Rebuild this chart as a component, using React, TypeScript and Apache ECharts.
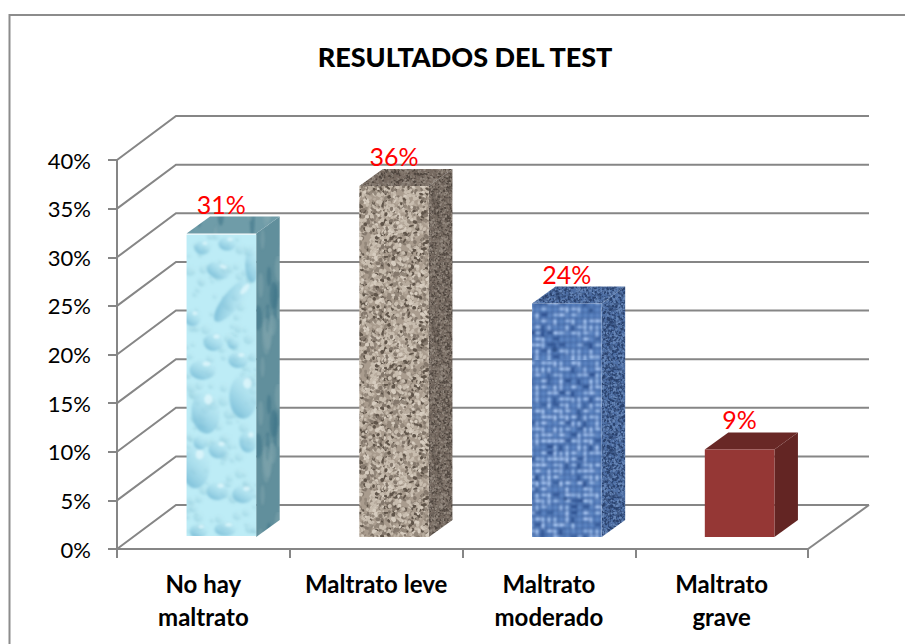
import React, { useEffect, useRef } from "react";
import * as echarts from "echarts";

const categories = ["No hay\nmaltrato", "Maltrato leve", "Maltrato\nmoderado", "Maltrato\ngrave"];
const barValues = [31.2, 36.1, 24, 9];
const valueLabels = ["31%", "36%", "24%", "9%"];
const yTicks = [0, 5, 10, 15, 20, 25, 30, 35, 40];
const titleText = "RESULTADOS DEL TEST";
const GREY = "#868686";
const FONT = "Lato";

// --- surface textures (decoration only, never data) ---
function rng(seed: number) {
  let s = seed;
  return () => {
    s = (s * 1664525 + 1013904223) % 4294967296;
    return s / 4294967296;
  };
}
function canvas(w: number, h: number) {
  const c = document.createElement("canvas");
  c.width = w;
  c.height = h;
  return [c, c.getContext("2d") as CanvasRenderingContext2D] as const;
}
function speckle(w: number, h: number, base: string, colors: string[], size: number, seed: number, blur = 0.6) {
  const [c, g] = canvas(w, h);
  const r = rng(seed);
  g.fillStyle = base;
  g.fillRect(0, 0, w, h);
  g.filter = `blur(${blur}px)`;
  const n = Math.round((w * h) / (size * size) * 1.6);
  for (let i = 0; i < n; i++) {
    g.fillStyle = colors[Math.floor(r() * colors.length)];
    g.beginPath();
    g.ellipse(r() * w, r() * h, size * (0.4 + r() * 0.5), size * (0.3 + r() * 0.4), r() * 3, 0, 6.3);
    g.fill();
  }
  return c.toDataURL();
}
function weave(w: number, h: number, base: string, light: string, dark: string, cell: number, seed: number) {
  const [c, g] = canvas(w, h);
  const r = rng(seed);
  g.fillStyle = base;
  g.fillRect(0, 0, w, h);
  g.filter = "blur(0.8px)";
  for (let y = 0; y < h; y += cell) {
    for (let x = 0; x < w; x += cell) {
      const k = r();
      g.fillStyle = k < 0.6 ? light : k < 0.74 ? dark : base;
      g.globalAlpha = 0.6 + r() * 0.4;
      const horizontal = r() < 0.5;
      g.fillRect(x + 1, y + 1, horizontal ? cell + 1 : cell - 2.5, horizontal ? cell - 2.5 : cell + 1);
    }
  }
  g.globalAlpha = 0.55;
  g.fillStyle = dark;
  for (let y = 0; y < h; y += cell) g.fillRect(0, y, w, 1);
  for (let x = 0; x < w; x += cell) g.fillRect(x, 0, 1, h);
  g.globalAlpha = 0.7;
  g.fillStyle = "#1f3f75";
  for (let i = 0; i < 30; i++) {
    g.beginPath();
    g.arc(r() * w, r() * h, 1.5 + r() * 1.5, 0, 6.3);
    g.fill();
  }
  return c.toDataURL();
}
function drop(g: CanvasRenderingContext2D, x: number, y: number, rx: number, ry: number, rot: number, dark: string, hi: string | null) {
  g.save();
  g.translate(x, y);
  g.rotate(rot);
  g.scale(rx, ry);
  const gr = g.createLinearGradient(-0.7, 1, 0.7, -1);
  gr.addColorStop(0, dark);
  gr.addColorStop(1, "rgba(200,240,248,0.25)");
  g.fillStyle = gr;
  g.beginPath();
  g.arc(0, 0, 1, 0, 6.3);
  g.fill();
  g.restore();
  if (hi) {
    g.save();
    g.translate(x, y);
    g.rotate(rot);
    g.translate(rx * 0.3, -ry * 0.62);
    g.fillStyle = hi;
    g.beginPath();
    g.ellipse(0, 0, Math.max(1, rx * 0.3), Math.max(1.4, ry * 0.24), 0, 0, 6.3);
    g.fill();
    g.restore();
  }
}
// drops sit at the places they have in the picture, relative to the face's top-left corner
const waterDrops = [
  [46, 66, 9, 27, 0.68], [32, 36, 12, 8, 0.3], [16, 13, 8, 7, 0], [41, 9, 9, 7, 0], [6, 84, 8, 8, 0],
  [27, 108, 10, 9, 0], [47, 109, 6, 6, 0], [52, 126, 10, 8, 0], [16, 136, 13, 10, 0], [66, 30, 7, 18, 0],
  [57, 163, 14, 22, 0], [19, 179, 14, 21, -0.1], [32, 216, 10, 9, 0], [9, 234, 14, 21, 0], [31, 258, 11, 9, 0],
  [57, 261, 11, 9, 0], [39, 296, 11, 7, 0], [12, 298, 9, 7, 0], [62, 208, 9, 11, 0], [14, 209, 7, 7, 0],
];
function waterFront(w: number, h: number) {
  const [c, g] = canvas(w, h);
  const r = rng(17);
  g.fillStyle = "#bdecf6";
  g.fillRect(0, 0, w, h);
  g.filter = "blur(1px)";
  for (let i = 0; i < 170; i++) {
    const rad = 1.5 + r() * 4;
    drop(g, r() * w, r() * h, rad, rad, 0, "rgba(135,195,212,0.55)", null);
  }
  for (const [x, y, rx, ry, rot] of waterDrops) {
    drop(g, x, y, rx, ry, rot, "rgba(105,178,208,0.85)", rx > 7 ? "rgba(225,248,252,0.8)" : null);
  }
  return c.toDataURL();
}
function waterSide(w: number, h: number, base: string) {
  const [c, g] = canvas(w, h);
  const r = rng(5);
  g.fillStyle = base;
  g.fillRect(0, 0, w, h);
  g.filter = "blur(1.2px)";
  for (let i = 0; i < 46; i++) {
    g.fillStyle = i % 2 ? "rgba(60,115,135,0.55)" : "rgba(135,170,178,0.4)";
    g.beginPath();
    g.ellipse(r() * w, r() * h, 2 + r() * 3, 8 + r() * 14, 0, 0, 6.3);
    g.fill();
  }
  return c.toDataURL();
}

type Skin = { front: any; side: any; top: any };
function makeSkins(): Skin[] {
  const tile = (image: string, size: number) => ({ image, repeat: "repeat", imageWidth: size, imageHeight: size });
  const rockA = ["#c8bdaf", "#c8bdaf", "#b7ab9d", "#d6ccbf", "#93877a", "#84786c", "#5f5449"];
  const rockB = ["#84796f", "#4f463f", "#766a61", "#948a80"];
  const clothSide = speckle(128, 128, "#3f5a88", ["#6787b8", "#2a426e", "#4f70a6"], 1.7, 41, 0.5);
  return [
    {
      front: { url: waterFront(70, 303) },
      side: tile(waterSide(128, 128, "#618f9c"), 128),
      top: tile(waterSide(128, 128, "#6f9ca8"), 128),
    },
    {
      front: tile(speckle(128, 128, "#a99c8e", rockA, 3, 23, 0.7), 128),
      side: tile(speckle(128, 128, "#6a6058", rockB, 1.6, 29, 0.5), 128),
      top: tile(speckle(128, 128, "#76695f", rockB, 1.9, 31, 0.5), 128),
    },
    {
      front: tile(weave(360, 360, "#5c84c0", "#a4c1ec", "#2f5290", 6, 37), 360),
      side: tile(clothSide, 128),
      top: tile(clothSide, 128),
    },
    { front: "#953735", side: "#632523", top: "#692826" },
  ];
}

export default function App() {
  const ref = useRef<HTMLDivElement>(null);
  useEffect(() => {
    document.body.style.margin = "0";
    const chart = echarts.init(ref.current!, undefined, { renderer: "svg" });
    const skins = makeSkins();
    const WALL = [59, -44];
    const FRONT_GAP = [18, -12];
    const BAR_DEPTH = [23.5, -17];

    chart.setOption({
      animation: false,
      backgroundColor: "#ffffff",
      title: {
        text: titleText,
        left: 460,
        top: 38,
        textAlign: "center",
        textStyle: { fontFamily: FONT, fontWeight: 900, fontSize: 27, color: "#000" },
      },
      graphic: [
        {
          type: "polyline",
          shape: { points: [[9.5, 644], [9.5, 15], [905, 15]] },
          style: { stroke: "#8c8c8c", lineWidth: 2, fill: "none" },
          silent: true,
        },
      ],
      grid: { left: 117, top: 160, width: 691, height: 389, containLabel: false },
      xAxis: {
        type: "category",
        data: categories,
        axisLine: { lineStyle: { color: GREY, width: 2 } },
        axisTick: { show: true, length: 9, lineStyle: { color: GREY, width: 2 } },
        axisLabel: {
          fontFamily: FONT,
          fontWeight: "bold",
          fontSize: 24,
          color: "#000",
          lineHeight: 33,
          margin: 18,
          interval: 0,
        },
        splitLine: { show: false },
      },
      yAxis: {
        type: "value",
        min: 0,
        max: 40,
        interval: 5,
        axisLine: { show: true, lineStyle: { color: GREY, width: 2 } },
        axisTick: { show: true, length: 9, lineStyle: { color: GREY, width: 2 } },
        axisLabel: { fontFamily: FONT, fontSize: 22, color: "#000", margin: 26, formatter: "{value}%" },
        splitLine: { show: false },
      },
      series: [
        {
          type: "custom",
          name: "walls",
          silent: true,
          z: 1,
          data: yTicks.map((t) => [0, t]),
          encode: { x: 0, y: 1 },
          clip: false,
          renderItem: (params: any, api: any) => {
            const cs = params.coordSys;
            const y = api.coord([0, api.value(1)])[1];
            const left = cs.x;
            const right = cs.x + cs.width;
            const pts = [[left, y], [left + WALL[0], y + WALL[1]], [right + WALL[0] + 2, y + WALL[1]]];
            const children: any[] = [
              { type: "polyline", shape: { points: pts }, style: { stroke: GREY, lineWidth: 2, fill: "none" } },
            ];
            if (api.value(1) === 0) {
              children.push({
                type: "line",
                shape: { x1: right, y1: y, x2: right + WALL[0] + 2, y2: y + WALL[1] },
                style: { stroke: GREY, lineWidth: 2 },
              });
            }
            return { type: "group", children };
          },
        },
        {
          type: "custom",
          name: "bars",
          silent: true,
          z: 2,
          data: barValues.map((v, i) => [i, v]),
          encode: { x: 0, y: 1 },
          clip: false,
          renderItem: (params: any, api: any) => {
            const i = api.value(0);
            const top = api.coord([i, api.value(1)]);
            const base = api.coord([i, 0]);
            const w = api.size([1, 0])[0] * 0.403;
            const x0 = top[0] - w / 2 + FRONT_GAP[0];
            const x1 = x0 + w;
            const yt = top[1] + FRONT_GAP[1];
            const yb = base[1] + FRONT_GAP[1];
            const [dx, dy] = BAR_DEPTH;
            const s = skins[i];
            const front = s.front.url
              ? { type: "image", style: { image: s.front.url, x: x0, y: yt, width: x1 - x0, height: yb - yt } }
              : { type: "polygon", shape: { points: [[x0, yt], [x1, yt], [x1, yb], [x0, yb]] }, style: { fill: s.front } };
            return {
              type: "group",
              children: [
                {
                  type: "polygon",
                  shape: { points: [[x1, yt], [x1 + dx, yt + dy], [x1 + dx, yb + dy], [x1, yb]] },
                  style: { fill: s.side },
                },
                {
                  type: "polygon",
                  shape: { points: [[x0, yt], [x0 + dx, yt + dy], [x1 + dx, yt + dy], [x1, yt]] },
                  style: { fill: s.top },
                },
                front,
                {
                  type: "text",
                  style: {
                    text: valueLabels[i],
                    x: (x0 + x1) / 2,
                    y: yt - 30,
                    fill: "#ff0000",
                    font: `25px ${FONT}`,
                    align: "center",
                    verticalAlign: "middle",
                  },
                },
              ],
            };
          },
        },
      ],
    });
    return () => chart.dispose();
  }, []);
  return <div ref={ref} style={{ position: "absolute", left: 0, top: 0, width: 905, height: 644 }} />;
}
